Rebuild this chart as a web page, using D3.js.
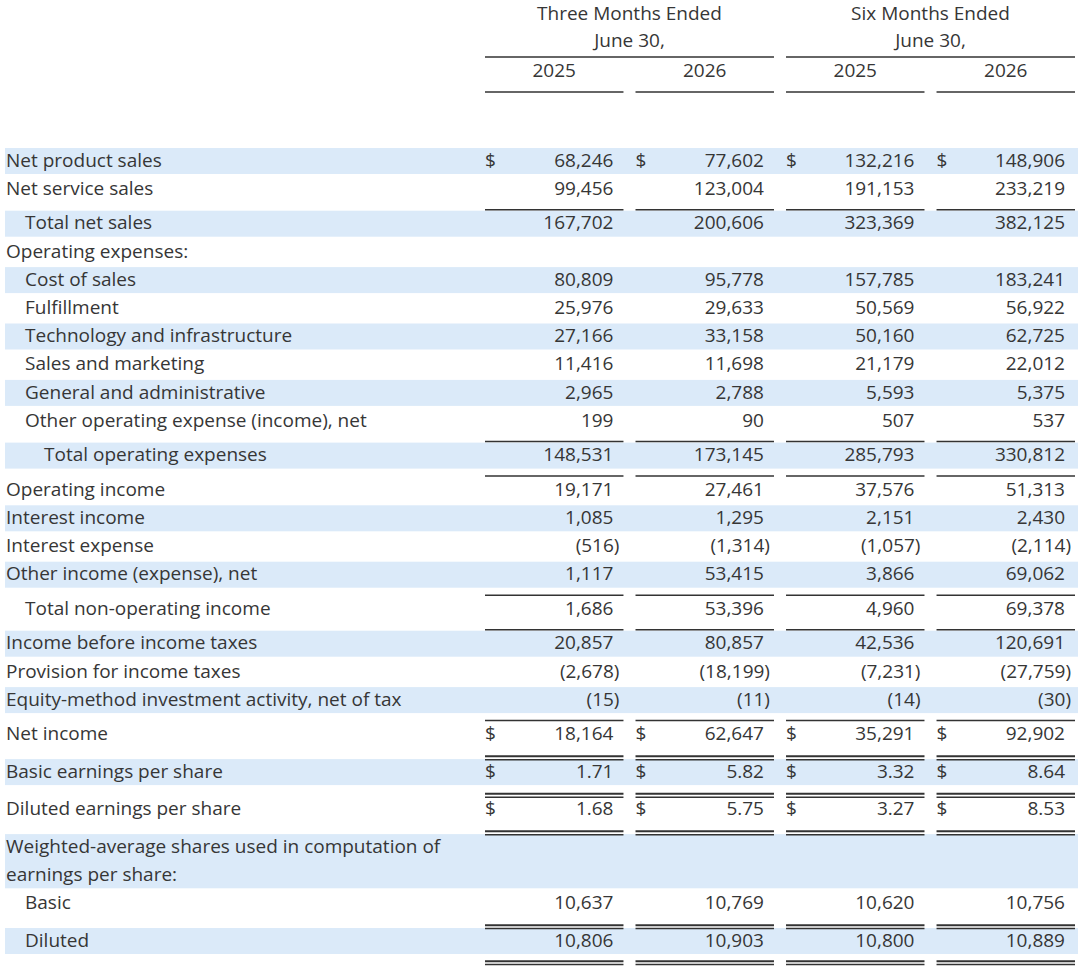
<!DOCTYPE html>
<html lang="en">
<head>
<meta charset="UTF-8">
<title>Income statement</title>
<script src="https://cdn.jsdelivr.net/npm/d3@7"></script>
<style>
    body { margin: 0; background: #fff; }
    text { font-family: "Open Sans", "Noto Sans", sans-serif; font-size: 19px; fill: #363636; }
</style>
</head>
<body>
<div id="chart"></div>
<script>
    // Column headers
    const groups = ["Three Months Ended", "Six Months Ended"];
    const groupSub = "June 30,";
    const years = ["2025", "2026", "2025", "2026"];
    const colKeys = ["q25", "q26", "h25", "h26"];

    // Row labels (\n = wrapped line), indent level
    const labels = [
        "Net product sales", "Net service sales", "Total net sales", "Operating expenses:",
        "Cost of sales", "Fulfillment", "Technology and infrastructure", "Sales and marketing",
        "General and administrative", "Other operating expense (income), net", "Total operating expenses",
        "Operating income", "Interest income", "Interest expense", "Other income (expense), net",
        "Total non-operating income", "Income before income taxes", "Provision for income taxes",
        "Equity-method investment activity, net of tax", "Net income", "Basic earnings per share",
        "Diluted earnings per share", "Weighted-average shares used in computation of\nearnings per share:",
        "Basic", "Diluted"
    ];
    const indent = [0,0,1,0,1,1,1,1,1,1,2,0,0,0,0,1,0,0,0,0,0,0,0,1,1];

    // Values per column (null = blank)
    const q2025 = [68246, 99456, 167702, null, 80809, 25976, 27166, 11416, 2965, 199, 148531,
        19171, 1085, -516, 1117, 1686, 20857, -2678, -15, 18164, 1.71, 1.68, null, 10637, 10806];
    const q2026 = [77602, 123004, 200606, null, 95778, 29633, 33158, 11698, 2788, 90, 173145,
        27461, 1295, -1314, 53415, 53396, 80857, -18199, -11, 62647, 5.82, 5.75, null, 10769, 10903];
    const h2025 = [132216, 191153, 323369, null, 157785, 50569, 50160, 21179, 5593, 507, 285793,
        37576, 2151, -1057, 3866, 4960, 42536, -7231, -14, 35291, 3.32, 3.27, null, 10620, 10800];
    const h2026 = [148906, 233219, 382125, null, 183241, 56922, 62725, 22012, 5375, 537, 330812,
        51313, 2430, -2114, 69062, 69378, 120691, -27759, -30, 92902, 8.64, 8.53, null, 10756, 10889];

    // Row formatting: dollar sign rows, per-share rows, rule above (0 none, 1 single, 2 double)
    const dollarRows = [0, 19, 20, 21];
    const perShareRows = [20, 21];
    const ruleAbove = [0,0,1,0,0,0,0,0,0,0,1,1,0,0,0,1,1,0,0,1,2,2,2,0,2];
    const ruleEnd = 2;

    const W = 1080, H = 969;
    const rowStep = 28.2, singleGap = 6.3, doubleGap = 9.3;
    const y0 = 160;

    const svg = d3.select("#chart").append("svg")
        .attr("width", W).attr("height", H);

    // Columns
    const x = d3.scaleBand()
        .domain(colKeys)
        .range([485, 1075])
        .paddingInner(0.08);

    // Row layout: centre of each row's first text line
    const lines = labels.map(l => l.split("\n"));
    const rowY = [];
    let yy = y0;
    labels.forEach((l, i) => {
        if (i > 0) {
            yy += rowStep * lines[i - 1].length;
            yy += ruleAbove[i] === 1 ? singleGap : ruleAbove[i] === 2 ? doubleGap : 0;
        }
        rowY.push(yy);
    });
    const lastY = rowY[rowY.length - 1] + rowStep * (lines[lines.length - 1].length - 1);

    // Shaded bands on alternating rows
    svg.append("g").selectAll("rect")
        .data(labels.map((l, i) => i).filter(i => i % 2 === 0))
        .join("rect")
        .attr("x", 5)
        .attr("width", W - 7)
        .attr("y", i => rowY[i] - 12)
        .attr("height", i => rowStep * (lines[i].length - 1) + 26)
        .attr("fill", "#dbeaf9");

    // Header
    const head = svg.append("g");
    groups.forEach((g, gi) => {
        const x0 = x(colKeys[gi * 2]), x1 = x(colKeys[gi * 2 + 1]) + x.bandwidth();
        const cx = (x0 + x1) / 2;
        head.append("text").attr("x", cx).attr("y", 13).attr("dy", "0.35em")
            .attr("text-anchor", "middle").text(g);
        head.append("text").attr("x", cx).attr("y", 40).attr("dy", "0.35em")
            .attr("text-anchor", "middle").text(groupSub);
        head.append("line").attr("x1", x0).attr("x2", x1).attr("y1", 57).attr("y2", 57)
            .attr("stroke", "#333").attr("stroke-width", 1.4);
    });
    colKeys.forEach((k, ci) => {
        head.append("text").attr("x", x(k) + x.bandwidth() / 2).attr("y", 70).attr("dy", "0.35em")
            .attr("text-anchor", "middle").text(years[ci]);
        head.append("line").attr("x1", x(k)).attr("x2", x(k) + x.bandwidth())
            .attr("y1", 92).attr("y2", 92).attr("stroke", "#333").attr("stroke-width", 1.4);
    });

    // Row labels
    const lab = svg.append("g").selectAll("text")
        .data(labels.map((l, i) => i))
        .join("text");
    lab.selectAll("tspan")
        .data(i => lines[i].map((t, j) => ({ t, j, i })))
        .join("tspan")
        .attr("x", d => 6 + indent[d.i] * 19)
        .attr("y", d => rowY[d.i] + d.j * rowStep)
        .attr("dy", "0.35em")
        .text(d => d.t);

    // Values
    const cols = [q2025, q2026, h2025, h2026];
    const fmtInt = d3.format(",");
    const fmtEps = d3.format(".2f");
    const cells = svg.append("g");
    cols.forEach((vals, ci) => {
        const left = x(colKeys[ci]);
        const right = left + x.bandwidth() - 10;
        vals.forEach((v, ri) => {
            if (v === null) return;
            const f = perShareRows.includes(ri) ? fmtEps : fmtInt;
            const neg = v < 0;
            cells.append("text")
                .attr("x", neg ? right + 6 : right)
                .attr("y", rowY[ri]).attr("dy", "0.35em")
                .attr("text-anchor", "end")
                .text(neg ? "(" + f(-v) + ")" : f(v));
            if (dollarRows.includes(ri)) {
                cells.append("text")
                    .attr("x", left).attr("y", rowY[ri]).attr("dy", "0.35em")
                    .text("$");
            }
        });
    });

    // Rules (single / double) above rows and at the end
    const rules = svg.append("g").attr("stroke", "#333");
    function drawRule(y, kind) {
        colKeys.forEach(k => {
            const offs = kind === 2 ? [-1.8, 1.6] : [0];
            offs.forEach((o, j) => {
                rules.append("line")
                    .attr("x1", x(k)).attr("x2", x(k) + x.bandwidth())
                    .attr("y1", y + o).attr("y2", y + o)
                    .attr("stroke-width", kind === 2 && j === 0 ? 2 : 1.5);
            });
        });
    }
    ruleAbove.forEach((r, i) => { if (r) drawRule(rowY[i] - 13, r); });
    drawRule(lastY + 23, ruleEnd);
</script>
</body>
</html>
